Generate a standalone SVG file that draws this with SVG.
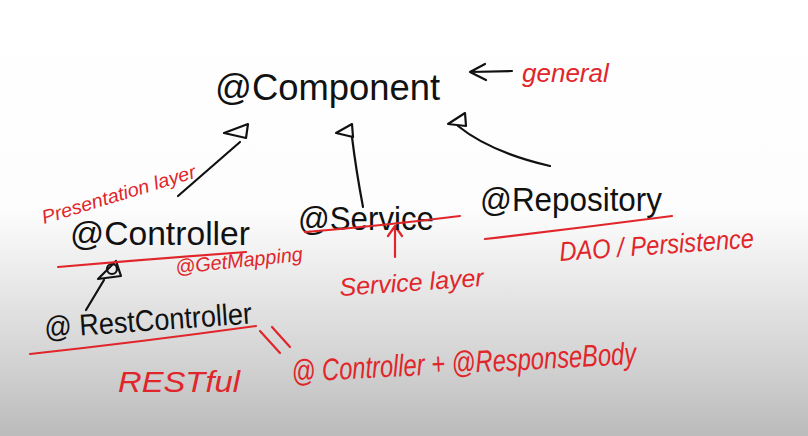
<svg xmlns="http://www.w3.org/2000/svg" width="808" height="436" viewBox="0 0 808 436">
<defs>
<linearGradient id="bg" x1="0" y1="0" x2="0" y2="1">
<stop offset="0" stop-color="#ffffff"/>
<stop offset="0.48" stop-color="#fdfdfd"/>
<stop offset="0.62" stop-color="#ececec"/>
<stop offset="0.85" stop-color="#d0d0d0"/>
<stop offset="1" stop-color="#bbbbbb"/>
</linearGradient>
<style>
.k{font-family:"Liberation Sans",Arial,sans-serif;fill:#111;}
.r{font-family:"Liberation Sans",Arial,sans-serif;fill:#e0262a;font-style:italic;}
.ln{fill:none;stroke:#111;stroke-width:2.2;stroke-linecap:round;stroke-linejoin:round;}
.rl{fill:none;stroke:#e0262a;stroke-width:2.2;stroke-linecap:round;stroke-linejoin:round;}
</style>
</defs>
<rect width="808" height="436" fill="url(#bg)"/>
<g id="connectors">
<polygon class="ln" points="248,124 224,133 246,138"/>
<path class="ln" d="M240,142 L178,196"/>
<polygon class="ln" points="352,124 336,133 353,137"/>
<path class="ln" d="M352,137 Q356,170 363,207"/>
<polygon class="ln" points="465,113 448,124 466,126"/>
<path class="ln" d="M458,126 Q490,152 550,166"/>
<polygon class="ln" points="116,261 98,279 121,276"/>
<circle class="ln" cx="112" cy="269" r="5"/>
<path class="ln" d="M104,280 L86,310"/>
<path class="ln" d="M485,64 L470,72 L486,80 M470,72 L512,71"/>
<path class="rl" d="M395,257 L395,226 M388,236 L395,226 L402,236"/>
<path class="rl" d="M260,331 L280,353 M272,327 L290,347"/>
</g>
<g id="component"><text class="k" x="215" y="100" font-size="37" textLength="225" lengthAdjust="spacingAndGlyphs">@Component</text></g>
<g id="general"><text class="r" x="522" y="82" font-size="26">general</text></g>
<g id="presentation"><text class="r" x="44" y="224" font-size="19" textLength="160" lengthAdjust="spacingAndGlyphs" transform="rotate(-17 44 224)">Presentation layer</text></g>
<g id="controller">
<text class="k" x="70" y="245" font-size="34" textLength="180" lengthAdjust="spacingAndGlyphs">@Controller</text>
<path class="rl" d="M58,267 Q150,259 246,252"/>
</g>
<g id="getmapping"><text class="r" x="176" y="274" font-size="20" textLength="128" lengthAdjust="spacingAndGlyphs" transform="rotate(-6 176 274)">@GetMapping</text></g>
<g id="service">
<text class="k" x="298" y="230" font-size="33" textLength="136" lengthAdjust="spacingAndGlyphs">@Service</text>
<path class="rl" d="M305,232 Q380,226 460,216"/>
</g>
<g id="servicelayer"><text class="r" x="340" y="296" font-size="25" transform="rotate(-4 340 296)">Service layer</text></g>
<g id="repository">
<text class="k" x="480" y="211" font-size="33" textLength="182" lengthAdjust="spacingAndGlyphs">@Repository</text>
<path class="rl" d="M485,239 Q580,228 672,216"/>
</g>
<g id="dao"><text class="r" x="560" y="261" font-size="27" textLength="195" lengthAdjust="spacingAndGlyphs" transform="rotate(-4 560 261)">DAO / Persistence</text></g>
<g id="restcontroller">
<text class="k" x="45" y="338" font-size="30" textLength="208" lengthAdjust="spacingAndGlyphs" transform="rotate(-4 45 338)">@ RestController</text>
<path class="rl" d="M30,354 Q140,342 256,326"/>
</g>
<g id="restful"><text class="r" x="118" y="392" font-size="30" textLength="122" lengthAdjust="spacingAndGlyphs">RESTful</text></g>
<g id="responsebody"><text class="r" x="292" y="382" font-size="31" textLength="345" lengthAdjust="spacingAndGlyphs" transform="rotate(-3 292 382)">@ Controller + @ResponseBody</text></g>
</svg>
